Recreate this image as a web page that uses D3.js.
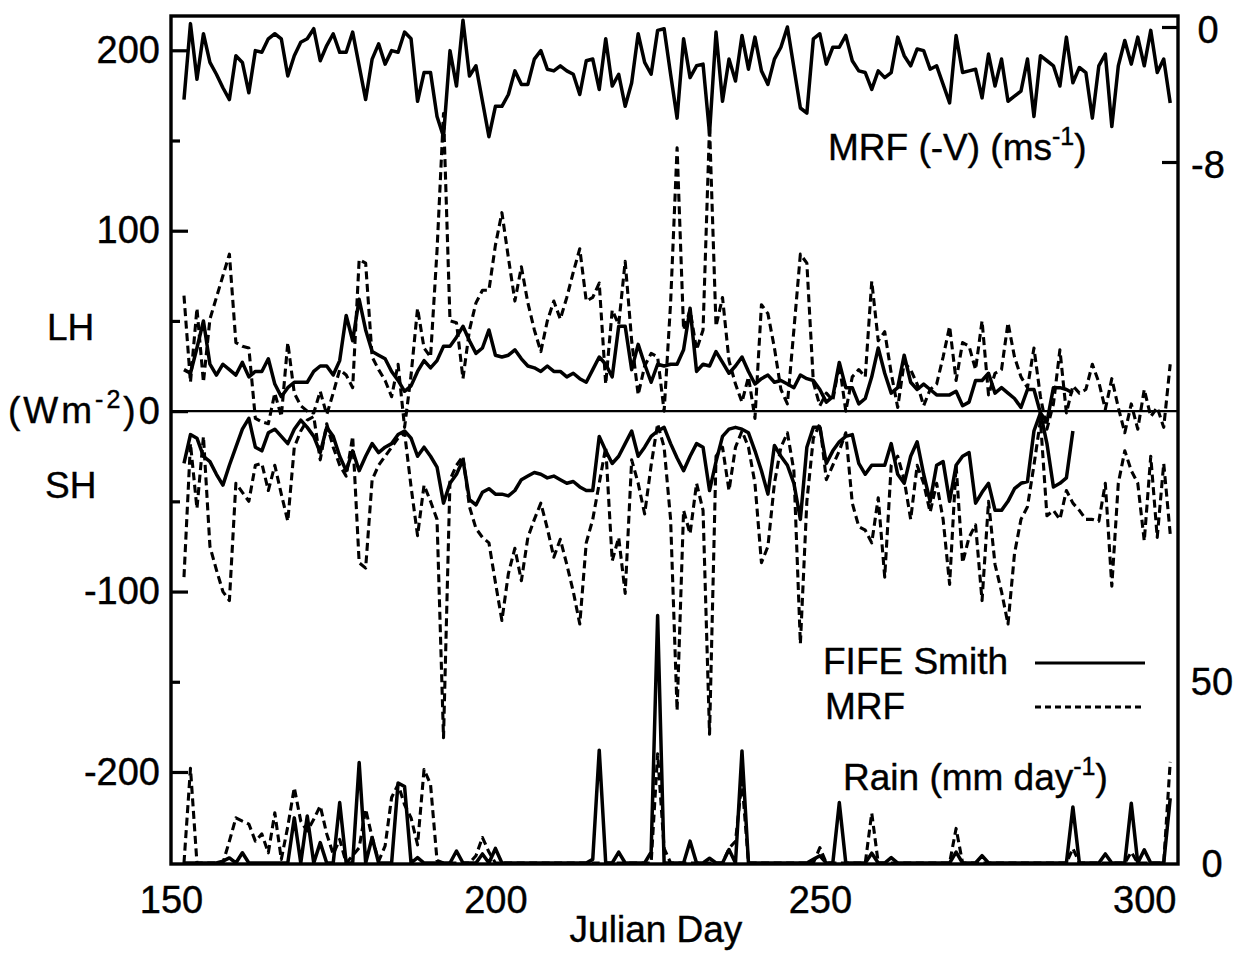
<!DOCTYPE html>
<html>
<head>
<meta charset="utf-8">
<script src="https://cdn.jsdelivr.net/npm/d3@7"></script>
<style>
  body { margin: 0; background: #fff; }
  text { font-family: "Liberation Sans", Arial, Helvetica, sans-serif; fill: #000; stroke: #000; stroke-width: 0.4; }
</style>
</head>
<body>
<svg id="chart" width="1241" height="956"></svg>
<script>
// all daily series start on Julian day 152
var firstDay = 152;

// MRF meridional wind (-V), m/s, days 152-304
var vMrf = [
  -4.3, 0.2, -3.1, -0.4, -2.1, -2.8, -3.6, -4.3, -1.7, -2.1,
  -3.9, -1.4, -1.5, -0.7, -0.4, -0.7, -2.9, -1.7, -0.9, -0.7,
  -0.1, -2.0, -1.1, -0.4, -1.5, -1.5, -0.3, -2.3, -4.3, -1.9,
  -1.0, -2.2, -1.4, -1.5, -0.3, -0.7, -4.4, -2.7, -2.7, -5.3,
  -6.5, -1.4, -3.5, 0.4, -2.9, -2.3, -4.4, -6.5, -4.7, -4.7,
  -4.0, -2.6, -3.4, -3.4, -1.9, -1.4, -2.5, -2.6, -2.3, -2.6,
  -2.8, -4.0, -2.0, -1.9, -3.7, -0.7, -3.5, -2.8, -4.7, -3.3,
  -0.4, -2.1, -2.8, -0.2, -0.1, -2.8, -5.4, -0.7, -3.0, -2.3,
  -2.2, -6.3, -0.3, -4.4, -1.9, -3.2, -0.5, -2.5, -0.6, -2.6,
  -3.4, -1.9, -1.2, 0.0, -2.4, -4.8, -5.1, -0.7, -0.4, -2.2,
  -1.2, -1.2, -0.5, -2.0, -2.6, -2.7, -3.7, -2.6, -3.0, -2.7,
  -0.6, -1.7, -2.3, -1.3, -1.4, -2.5, -2.3, -3.4, -4.5, -0.5,
  -2.7, -2.6, -2.5, -4.2, -1.6, -3.5, -1.9, -4.4, -4.1, -3.8,
  -1.9, -5.3, -1.7, -2.0, -2.3, -3.5, -0.6, -3.3, -2.4, -2.7,
  -5.4, -2.3, -1.6, -5.9, -2.3, -0.8, -2.2, -0.6, -2.3, -0.2,
  -2.7, -1.9, -4.5
];

// latent heat flux, W/m2 (FIFE Smith days 152-289, MRF days 152-304)
var lhFife = [
  23, 21, 35, 50, 26, 20, 26, 23, 20, 27,
  19, 22, 22, 29, 15, 8, 13, 16, 16, 16,
  22, 25, 25, 20, 28, 53, 39, 62, 45, 33,
  31, 29, 22, 17, 11, 14, 22, 28, 24, 28,
  36, 36, 41, 47, 39, 32, 35, 45, 31, 30,
  31, 34, 29, 25, 24, 22, 25, 22, 22, 19,
  21, 18, 16, 23, 30, 26, 19, 47, 47, 23,
  37, 26, 16, 26, 25, 26, 26, 34, 57, 22,
  26, 25, 33, 27, 21, 25, 30, 22, 15, 18,
  20, 16, 17, 15, 13, 20, 18, 17, 12, 5,
  8, 27, 13, 13, 4, 7, 19, 35, 21, 10,
  13, 31, 16, 12, 15, 12, 9, 9, 9, 11,
  3, 5, 17, 17, 21, 10, 13, 10, 7, 2,
  12, 12, -1, -6, 13, 13, 12, 10
];
var lhMrf = [
  64, 16, 57, 16, 51, 63, 75, 87, 38, 36,
  35, -4, -6, -7, 10, -3, 38, 10, 3, 0,
  -1, 11, -2, 10, 23, 20, 13, 84, 82, 30,
  23, 17, 8, 26, -9, 20, 57, 35, 30, 89,
  165, 50, 49, 18, 45, 60, 67, 67, 92, 110,
  85, 61, 80, 60, 45, 33, 50, 61, 51, 63,
  77, 90, 61, 63, 71, 15, 56, 48, 83, 39,
  9, 25, 32, 30, 0, 60, 146, 45, 56, 34,
  45, 158, 47, 63, 28, 15, 5, 19, -4, 59,
  54, 35, 12, 4, 45, 87, 82, 16, 3, 10,
  6, 26, 0, 19, 23, 19, 72, 39, 44, 21,
  2, 27, 23, 15, 3, 12, 15, 30, 47, 17,
  38, 36, 23, 50, 9, 21, 23, 49, 30, 19,
  13, 35, 8, -10, 4, 34, -1, 14, 10, 12,
  26, 16, 1, 18, 2, -12, 4, -10, 12, -3,
  2, -9, 26
];

// sensible heat flux, plotted negative, W/m2
var shFife = [
  -29, -13, -15, -25, -28, -35, -41, -30, -20, -10,
  -4, -20, -22, -12, -10, -14, -18, -10, -5, -9,
  -14, -23, -9, -14, -25, -33, -22, -33, -25, -18,
  -23, -20, -18, -13, -11, -15, -25, -20, -25, -31,
  -51, -40, -35, -27, -49, -52, -45, -43, -46, -46,
  -47, -44, -38, -36, -34, -35, -37, -36, -38, -40,
  -39, -42, -44, -44, -14, -22, -29, -25, -18, -11,
  -25, -20, -14, -11, -9, -18, -26, -33, -25, -18,
  -20, -44, -28, -14, -10, -9, -10, -12, -22, -33,
  -46, -19, -25, -30, -40, -60, -20, -9, -9, -29,
  -22, -17, -14, -13, -29, -35, -30, -30, -30, -18,
  -35, -40, -25, -17, -35, -50, -30, -28, -50, -30,
  -25, -23, -51, -45, -40, -55, -55, -50, -43, -40,
  -39, -11, -1, -18, -42, -40, -37, -11
];
var shMrf = [
  -92, -18, -54, -14, -75, -88, -100, -105, -40, -45,
  -50, -30, -29, -44, -30, -46, -61, -20, -11, -5,
  -3, -27, -7, -20, -30, -36, -14, -84, -87, -38,
  -30, -25, -20, -15, -12, -42, -69, -41, -50, -60,
  -181, -38, -30, -25, -53, -65, -70, -73, -95, -116,
  -90, -76, -94, -70, -60, -51, -65, -81, -71, -85,
  -100, -118, -73, -60, -40, -20, -83, -70, -101, -27,
  -40, -57, -30, -7, -20, -60, -166, -55, -68, -40,
  -55, -179, -25, -20, -44, -20, -11, -20, -40, -84,
  -75, -40, -20, -12, -33, -129, -50, -15, -7, -38,
  -30, -22, -12, -51, -64, -66, -73, -48, -92, -30,
  -25, -38, -60, -30, -40, -56, -40, -60, -96, -30,
  -84, -70, -63, -105, -50, -85, -100, -118, -79, -60,
  -53, -30, -5, -58, -55, -60, -44, -51, -55, -60,
  -60, -61, -40, -97, -40, -22, -33, -40, -72, -25,
  -70, -29, -68
];

// rain, mm/day, days 152-304 (rows of ten days)
var rainFife = [
  0, 0, 0, 0, 0, 0, 0.5, 1.4, 0, 2.8,
  0, 0, 0, 0, 0, 0, 0, 12.4, 0, 12.9,
  0, 5.6, 0, 0, 16.6, 0, 0, 27.6, 0, 7,
  0, 0, 0, 22, 21, 0, 1.5, 0, 0, 0,
  0, 0, 3.3, 0, 0, 0, 2.5, 0, 4, 0,
  0, 0, 0, 0, 0, 0, 0, 0, 0, 0,
  0, 0, 0, 1, 31, 0, 0, 3, 0, 0,
  0, 0, 3, 68, 0, 0, 0, 0, 6, 0,
  0, 1.3, 0, 0, 3.7, 0, 30.8, 0, 0, 0,
  0, 0, 0, 0, 0, 0, 0, 1, 2, 0,
  0, 16.6, 0, 0, 0, 0, 2.7, 0, 0, 1.5,
  0, 0, 0, 0, 0, 0, 0, 0, 0, 3,
  0, 0, 0, 2, 0, 0, 0, 0, 0, 0,
  0, 0, 0, 0, 0, 0, 0, 15.4, 0, 0,
  0, 0, 2.5, 0, 0, 0, 16.4, 0, 3.6, 0,
  0, 0, 17.8
];
var rainMrf = [
  0, 26, 0, 0, 0, 0, 0, 6, 12.4, 11.5,
  10.7, 6, 8, 2.8, 13.8, 1, 10, 20.7, 11.5, 8.8,
  12, 15.7, 8, 2.4, 6.5, 0, 2, 4.2, 14.8, 7,
  0.5, 4.7, 18, 21.6, 16, 12.4, 5, 25.7, 21.6, 0.7,
  0, 0, 0, 0, 0, 2, 7, 3, 0, 0,
  0, 0, 0, 0, 0, 0, 0, 0, 0, 0,
  0, 0, 0, 0, 0, 0, 0, 0, 0, 0,
  0, 0, 0, 30, 4, 0, 0, 0, 0, 0,
  0, 0, 0, 0, 4, 6, 22.5, 0, 0, 0,
  0, 0, 0, 0, 0, 0, 0, 0, 4.2, 0,
  0, 0, 0, 0, 0, 0, 13.7, 0, 0, 0,
  0, 0, 0, 0, 0, 0, 0, 0, 0, 9.5,
  0, 0, 0, 0, 0, 0, 0, 0, 0, 0,
  0, 0, 0, 0, 0, 0, 0, 4, 0, 0,
  0, 0, 0, 0, 0, 0, 3, 0, 0, 0,
  0, 0, 27.8
];

var dayTicks = [150, 200, 250, 300];
var fluxMajor = [200, 100, 0, -100, -200],
    fluxMinor = [150, 50, -50, -150];
var windTicks = [0, -8],
    rainTicks = [0, 50];

var frame = {left: 171, right: 1178, top: 16, bottom: 864},
    font = 37,
    tickFont = 38;

var svg = d3.select("#chart");

var x = d3.scaleLinear().domain([150, 305.2]).range([frame.left, frame.right]);
var y = d3.scaleLinear().domain([-251, 219]).range([frame.bottom, frame.top]);
var yV = d3.scaleLinear().domain([-8, 0]).range([162, 27]);
var yR = d3.scaleLinear().domain([0, 50]).range([863, 681]);

var plainNum = function(d) { return String(d); };   // hyphen minus like the original

svg.append("defs").append("clipPath").attr("id", "plot")
  .append("rect")
    .attr("x", frame.left).attr("y", frame.top)
    .attr("width", frame.right - frame.left)
    .attr("height", frame.bottom - frame.top);

var plot = svg.append("g").attr("clip-path", "url(#plot)");

// zero line between LH and SH
plot.append("line")
    .attr("x1", frame.left).attr("x2", frame.right)
    .attr("y1", y(0)).attr("y2", y(0))
    .attr("stroke", "#000").attr("stroke-width", 2.2);

function drawSeries(values, scale, dashed) {
  var line = d3.line()
      .x(function(d, i) { return x(firstDay + i); })
      .y(function(d) { return scale(d); });
  plot.append("path")
      .datum(values)
      .attr("d", line)
      .attr("fill", "none")
      .attr("stroke", "#000")
      .attr("stroke-width", dashed ? 3.1 : 3.5)
      .attr("stroke-linejoin", "round")
      .attr("stroke-dasharray", dashed ? "8,4.5" : null);
}

drawSeries(vMrf, yV, false);
drawSeries(lhMrf, y, true);
drawSeries(shMrf, y, true);
drawSeries(lhFife, y, false);
drawSeries(shFife, y, false);
drawSeries(rainMrf, yR, true);
drawSeries(rainFife, yR, false);

// frame
svg.append("rect")
    .attr("x", frame.left).attr("y", frame.top)
    .attr("width", frame.right - frame.left)
    .attr("height", frame.bottom - frame.top)
    .attr("fill", "none").attr("stroke", "#000").attr("stroke-width", 3.4);

function styleAxis(g) {
  g.select(".domain").remove();
  g.selectAll("line").attr("stroke-width", 3.2);
  g.selectAll("text")
      .attr("font-size", tickFont)
      .attr("font-family", '"Liberation Sans", Arial, sans-serif');
}

// left flux axis
svg.append("g")
    .attr("transform", "translate(" + frame.left + ",0)")
    .call(d3.axisLeft(y).tickValues(fluxMajor).tickSize(-17).tickPadding(11).tickFormat(plainNum))
    .call(styleAxis);
svg.append("g")
    .attr("transform", "translate(" + frame.left + ",0)")
    .call(d3.axisLeft(y).tickValues(fluxMinor).tickSize(-9).tickFormat(""))
    .call(styleAxis);

// right wind axis
var gV = svg.append("g")
    .attr("transform", "translate(" + frame.right + ",0)")
    .call(d3.axisRight(yV).tickValues(windTicks).tickSize(-16).tickPadding(30).tickFormat(plainNum))
    .call(styleAxis);
gV.selectAll("text").attr("text-anchor", "middle").attr("dy", "0.4em");

// right rain axis
var gR = svg.append("g")
    .attr("transform", "translate(" + frame.right + ",0)")
    .call(d3.axisRight(yR).tickValues(rainTicks).tickSize(0).tickPadding(34).tickFormat(plainNum))
    .call(styleAxis);
gR.selectAll("text").attr("text-anchor", "middle").attr("dy", "0.36em");

// bottom day axis
svg.append("g")
    .attr("transform", "translate(0," + frame.bottom + ")")
    .call(d3.axisBottom(x).tickValues(dayTicks).tickSize(0).tickPadding(22).tickFormat(plainNum))
    .call(styleAxis);

svg.append("text")
    .attr("x", 656).attr("y", 942)
    .attr("text-anchor", "middle").attr("font-size", font)
    .text("Julian Day");

function label(xp, yp, main, sup, tail) {
  var t = svg.append("text").attr("x", xp).attr("y", yp).attr("font-size", font);
  t.append("tspan").text(main);
  if (sup) {
    t.append("tspan").attr("font-size", 25).attr("dy", -15).text(sup);
    t.append("tspan").attr("dy", 15).text(tail);
  }
  return t;
}

label(47, 340, "LH");
label(8, 423, "(Wm", "-2", ")").attr("letter-spacing", 3);
label(45, 498, "SH");
label(828, 160, "MRF (-V) (ms", "-1", ")");
label(843, 790, "Rain (mm day", "-1", ")");
label(823, 674, "FIFE Smith");
label(825, 719, "MRF");

// legend samples
svg.append("line")
    .attr("x1", 1035).attr("x2", 1145).attr("y1", 663).attr("y2", 663)
    .attr("stroke", "#000").attr("stroke-width", 3);
svg.append("line")
    .attr("x1", 1035).attr("x2", 1145).attr("y1", 707).attr("y2", 707)
    .attr("stroke", "#000").attr("stroke-width", 2.8)
    .attr("stroke-dasharray", "6,4");
</script>
</body>
</html>
